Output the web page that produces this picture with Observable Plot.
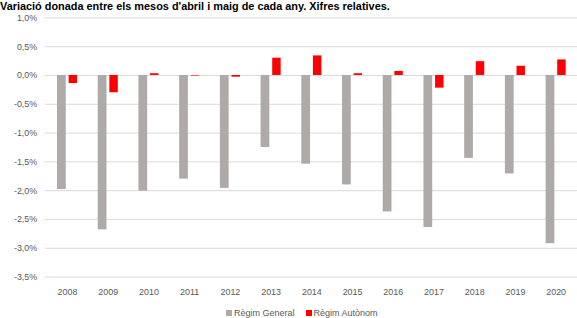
<!DOCTYPE html>
<html><head><meta charset="utf-8">
<script src="https://cdn.jsdelivr.net/npm/d3@7"></script>
<script src="https://cdn.jsdelivr.net/npm/@observablehq/plot@0.6"></script>
<style>
body{margin:0;overflow:hidden;background:#fff;font-family:"Liberation Sans",Arial,sans-serif}
#wrap{position:relative;width:577px;height:318px;overflow:hidden}
#title{position:absolute;left:0;top:0;font-weight:bold;font-size:10.9px;line-height:12px;white-space:nowrap;color:#000}
#chart{position:absolute;left:0;top:0}
#legend{position:absolute;top:308px;left:226px;font-size:9px;color:#595959;display:flex;gap:11px;white-space:nowrap}
#legend span.sw{display:inline-block;width:6px;height:6px;margin-right:2px;vertical-align:0px}
</style></head>
<body>
<div id="wrap">
<div id="chart"></div>
<div id="title">Variació donada entre els mesos d'abril i maig de cada any. Xifres relatives.</div>
<div id="legend"></div>
</div>
<script>
const years = ["2008","2009","2010","2011","2012","2013","2014","2015","2016","2017","2018","2019","2020"];
const general = [-1.98,-2.68,-2.01,-1.80,-1.96,-1.25,-1.54,-1.90,-2.37,-2.64,-1.44,-1.71,-2.92];
const autonom = [-0.14,-0.30,0.03,-0.01,-0.03,0.30,0.34,0.03,0.07,-0.22,0.24,0.16,0.27];
const series = ["Règim General","Règim Autònom"];
const colors = ["#aeaaaa","#ff0000"];
const yTicks = [1,0.5,0,-0.5,-1,-1.5,-2,-2.5,-3,-3.5];

const genData = years.map((y,i)=>({year:y, value:general[i], s:series[0]}));
const autData = years.map((y,i)=>({year:y, value:autonom[i], s:series[1]}));

const fmt = d => d.toFixed(1).replace(".", ",") + "%";

const chart = Plot.plot({
  width: 581, height: 300,
  marginLeft: 45, marginRight: 0, marginTop: 17.5, marginBottom: 21.5,
  style: {fontFamily: "'Liberation Sans', Arial, sans-serif", fontSize: "9px", color: "#595959", background: "#fff", overflow: "visible"},
  x: {domain: years, padding: 0, label: null, tickSize: 0, tickPadding: 12},
  y: {domain: [-3.5, 1], ticks: yTicks, tickFormat: fmt, label: null, tickSize: 0, tickPadding: 8},
  color: {domain: series, range: colors},
  marks: [
    Plot.ruleY(yTicks, {stroke: "#d9d9d9", strokeWidth: 1}),
    Plot.barY(genData, {x: "year", y: "value", fill: "s", insetLeft: 10.4, insetRight: 21.8}),
    Plot.barY(autData, {x: "year", y: "value", fill: "s", insetLeft: 22.1, insetRight: 10.4})
  ]
});
document.getElementById("chart").appendChild(chart);

const leg = document.getElementById("legend");
series.forEach((s,i)=>{
  const item = document.createElement("div");
  const sw = document.createElement("span");
  sw.className = "sw"; sw.style.background = colors[i];
  item.appendChild(sw);
  item.appendChild(document.createTextNode(s));
  leg.appendChild(item);
});
</script>
</body></html>
